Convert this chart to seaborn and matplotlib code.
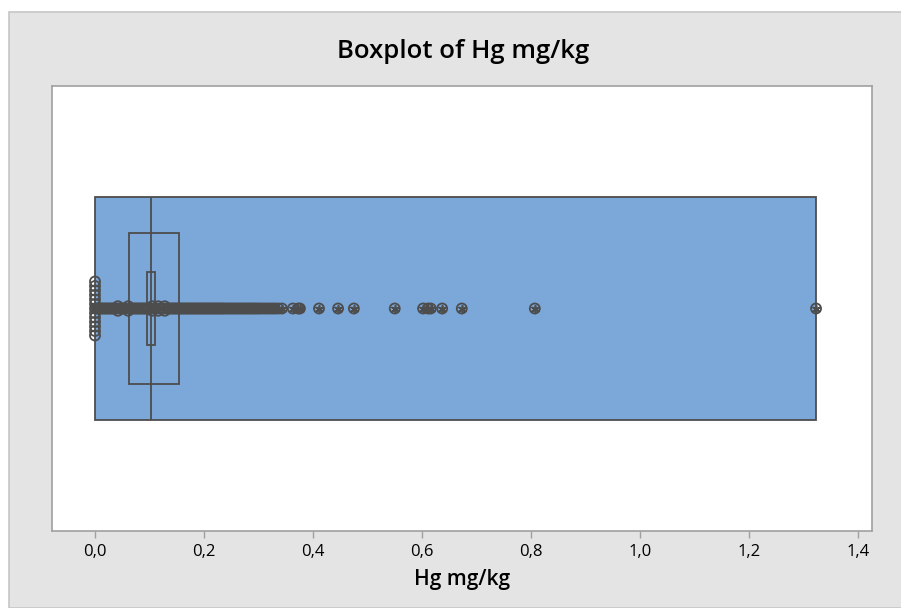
import matplotlib.pyplot as plt
import seaborn as sns
import pandas as pd
import numpy as np
from matplotlib.patches import Rectangle

sns.set_style("white")
plt.rcParams['font.family'] = ['Open Sans', 'DejaVu Sans']

# box summary
box_low, box_high = 0.0, 1.323
q1, q3 = 0.062, 0.154
median = 0.103
ci_low, ci_high = 0.096, 0.110

# individual values (ties repeat)
zeros = [0.0] * 13
band_values = [0.003, 0.006, 0.009, 0.012, 0.015, 0.018, 0.021, 0.024, 0.027, 0.030, 0.033,
               0.036, 0.039, 0.042, 0.042, 0.045, 0.048, 0.051, 0.054, 0.057, 0.061, 0.061,
               0.064, 0.067, 0.070, 0.073, 0.076, 0.079, 0.082, 0.085, 0.088, 0.091, 0.094,
               0.097, 0.100, 0.105, 0.105, 0.108, 0.112, 0.116, 0.116, 0.119, 0.122, 0.125,
               0.128, 0.128, 0.131, 0.134, 0.137, 0.140, 0.143, 0.146, 0.149, 0.152, 0.155,
               0.158, 0.161, 0.164, 0.167, 0.170, 0.173, 0.176, 0.179, 0.182, 0.185, 0.188,
               0.191, 0.194, 0.197, 0.200, 0.203, 0.206, 0.209, 0.212, 0.215, 0.218, 0.221,
               0.224, 0.227, 0.230, 0.233, 0.236]
outliers = [0.240, 0.244, 0.248, 0.252, 0.256, 0.260, 0.264, 0.268, 0.272, 0.276, 0.280,
            0.284, 0.288, 0.292, 0.296, 0.300, 0.305, 0.310, 0.315, 0.320, 0.325, 0.330,
            0.336, 0.343, 0.363, 0.373, 0.376, 0.411, 0.446, 0.475, 0.550, 0.602, 0.611,
            0.616, 0.637, 0.673, 0.807, 1.323]
hg_values = zeros + band_values + outliers

x_ticks = [0.0, 0.2, 0.4, 0.6, 0.8, 1.0, 1.2, 1.4]
x_tick_labels = ["0,0", "0,2", "0,4", "0,6", "0,8", "1,0", "1,2", "1,4"]

W, H = 901, 608
fig = plt.figure(figsize=(W / 100, H / 100), dpi=100, facecolor='white')
fig.add_artist(Rectangle((9 / W, 0), 1, 1 - 12 / H, transform=fig.transFigure,
                         facecolor='#E4E4E4', edgecolor='#C6C6C6', lw=1.2, zorder=-1))
ax = fig.add_axes([52 / W, 1 - 531 / H, (872 - 52) / W, (531 - 86) / H])
ax.set_zorder(1)
ax.set_facecolor('white')

edge = '#4D4D4D'
# big blue box
ax.barh(0, box_high - box_low, left=box_low, height=1.0, color='#7BA7D9',
        edgecolor=edge, linewidth=1.3, zorder=1)
# interquartile box
ax.barh(0, q3 - q1, left=q1, height=0.675, fill=False, edgecolor=edge, linewidth=1.3, zorder=2)
# median ci box
ax.barh(0, ci_high - ci_low, left=ci_low, height=0.33, fill=False, edgecolor=edge,
        linewidth=1.3, zorder=2)
ax.vlines(median, -0.5, 0.5, color=edge, linewidth=1.3, zorder=2)

# stack tied values vertically
step = 4.5 * 2 / 445
df = pd.DataFrame({'hg': hg_values})
df['k'] = df.groupby('hg').cumcount()
df['n'] = df.groupby('hg')['hg'].transform('size')
df['y'] = (df['k'] - (df['n'] - 1) / 2) * step
df['outlier'] = df['hg'].isin(outliers)

sns.scatterplot(data=df, x='hg', y='y', ax=ax, marker='o', s=52, facecolors='none',
                edgecolor=edge, linewidth=1.3, zorder=3, legend=False)
sns.scatterplot(data=df[df['outlier']], x='hg', y='y', ax=ax, marker=(6, 2, 0), s=30,
                color=edge, linewidth=1.2, zorder=4, legend=False)

ax.set_xlim(-0.0789, 1.4257)
ax.set_ylim(-1, 1)
ax.set_yticks([])
ax.set_ylabel('')
ax.set_xticks(x_ticks)
ax.set_xticklabels(x_tick_labels)
ax.tick_params(axis='x', direction='out', length=5, width=1, color='#A0A0A0',
               labelsize=12, pad=4, bottom=True, labelcolor='black')
for s in ax.spines.values():
    s.set_color('#A0A0A0')
    s.set_linewidth(1.2)
ax.set_xlabel('Hg mg/kg', fontsize=15, fontweight='semibold', labelpad=7, color='black')
fig.text(463 / W, 1 - 52 / H, 'Boxplot of Hg mg/kg', ha='center', va='center',
         fontsize=18.5, fontweight='semibold', color='black')

fig.savefig('out.png', dpi=100)
